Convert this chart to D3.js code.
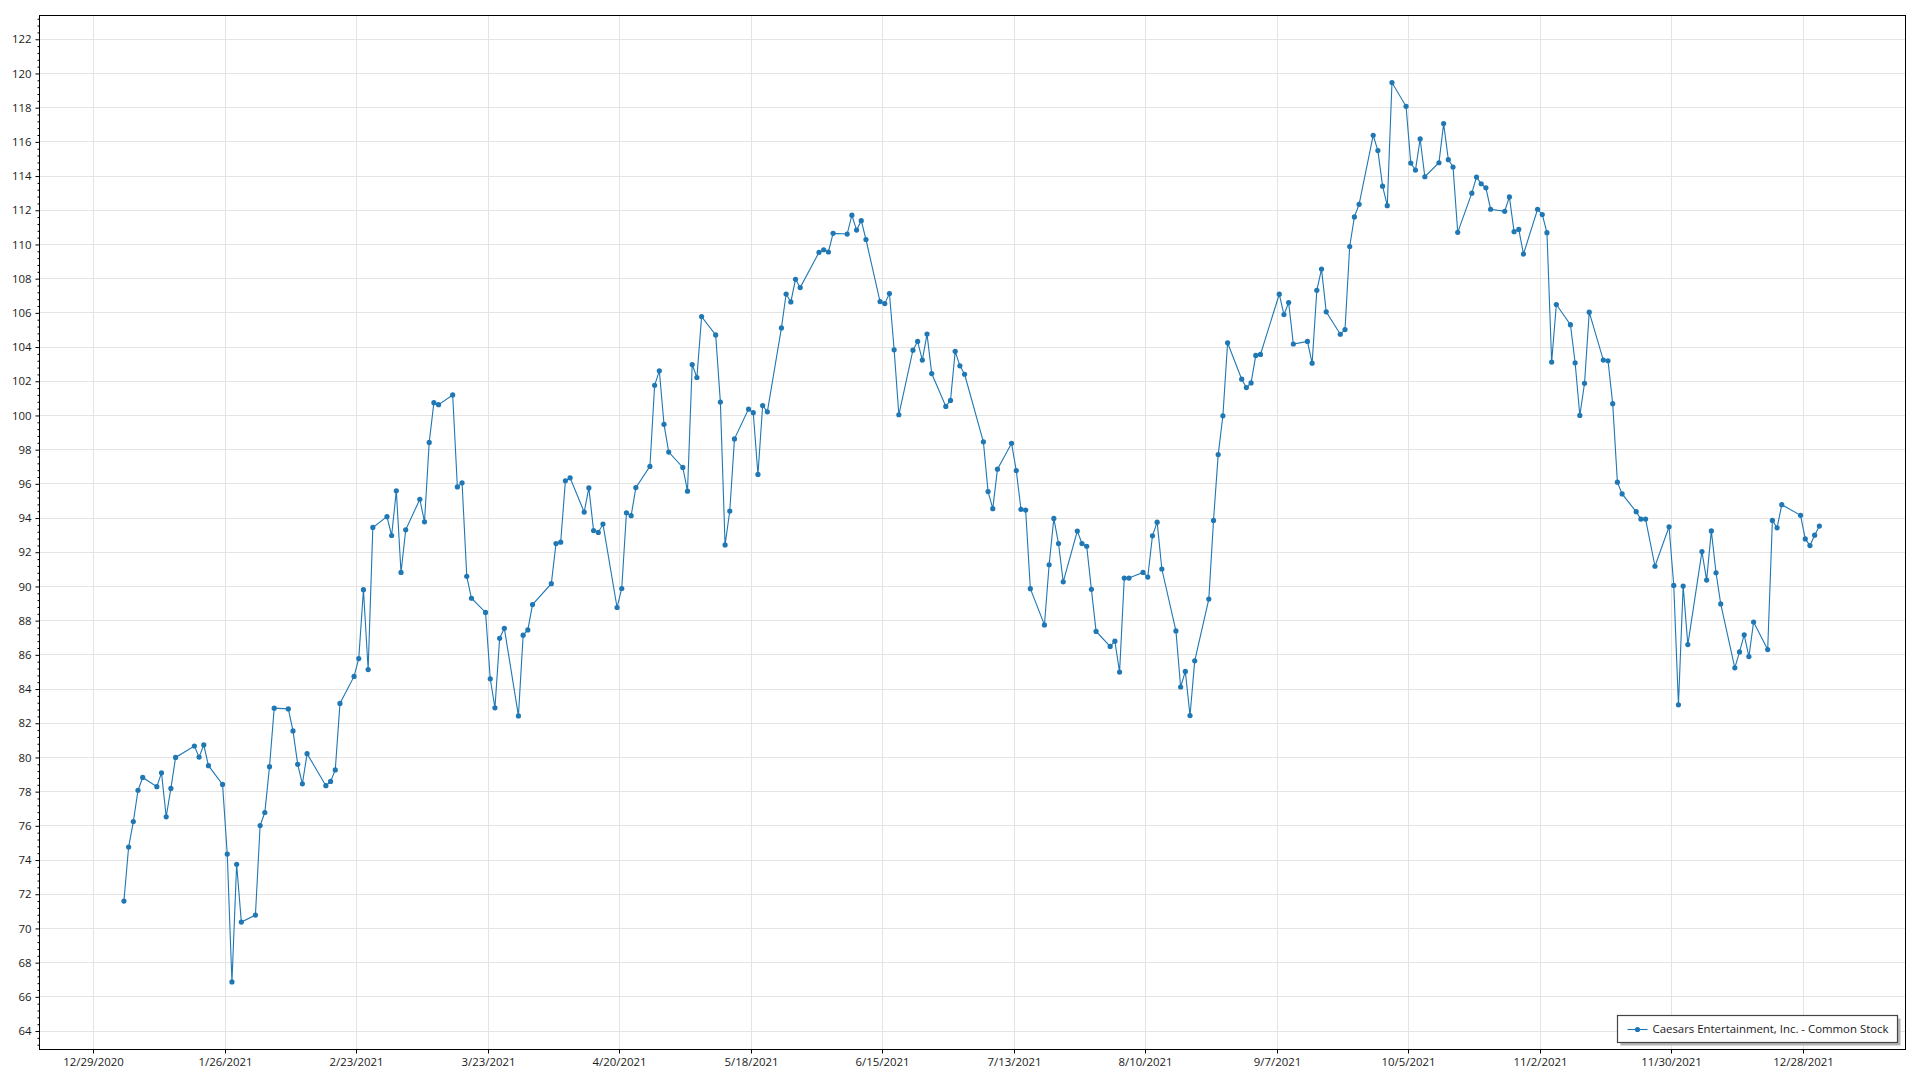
<!DOCTYPE html>
<html>
<head>
<meta charset="utf-8">
<script src="https://cdn.jsdelivr.net/npm/d3@7"></script>
<style>
  body { margin: 0; background: #fff; }
  svg text { font-family: "Segoe UI", "Open Sans", "Noto Sans", "Liberation Sans", sans-serif; }
</style>
</head>
<body>
<svg id="chart" width="1920" height="1080"></svg>
<script>
const seriesName = "Caesars Entertainment, Inc. - Common Stock";

const dates = [
  "2021-01-04","2021-01-05","2021-01-06","2021-01-07","2021-01-08",
  "2021-01-11","2021-01-12","2021-01-13","2021-01-14","2021-01-15",
  "2021-01-19","2021-01-20","2021-01-21","2021-01-22",
  "2021-01-25","2021-01-26","2021-01-27","2021-01-28","2021-01-29",
  "2021-02-01","2021-02-02","2021-02-03","2021-02-04","2021-02-05",
  "2021-02-08","2021-02-09","2021-02-10","2021-02-11","2021-02-12",
  "2021-02-16","2021-02-17","2021-02-18","2021-02-19",
  "2021-02-22","2021-02-23","2021-02-24","2021-02-25","2021-02-26",
  "2021-03-01","2021-03-02","2021-03-03","2021-03-04","2021-03-05",
  "2021-03-08","2021-03-09","2021-03-10","2021-03-11","2021-03-12",
  "2021-03-15","2021-03-16","2021-03-17","2021-03-18","2021-03-19",
  "2021-03-22","2021-03-23","2021-03-24","2021-03-25","2021-03-26",
  "2021-03-29","2021-03-30","2021-03-31",
  "2021-04-01",
  "2021-04-05","2021-04-06","2021-04-07","2021-04-08","2021-04-09",
  "2021-04-12","2021-04-13","2021-04-14","2021-04-15","2021-04-16",
  "2021-04-19","2021-04-20","2021-04-21","2021-04-22","2021-04-23",
  "2021-04-26","2021-04-27","2021-04-28","2021-04-29","2021-04-30",
  "2021-05-03","2021-05-04","2021-05-05","2021-05-06","2021-05-07",
  "2021-05-10","2021-05-11","2021-05-12","2021-05-13","2021-05-14",
  "2021-05-17","2021-05-18","2021-05-19","2021-05-20","2021-05-21",
  "2021-05-24","2021-05-25","2021-05-26","2021-05-27","2021-05-28",
  "2021-06-01","2021-06-02","2021-06-03","2021-06-04",
  "2021-06-07","2021-06-08","2021-06-09","2021-06-10","2021-06-11",
  "2021-06-14","2021-06-15","2021-06-16","2021-06-17","2021-06-18",
  "2021-06-21","2021-06-22","2021-06-23","2021-06-24","2021-06-25",
  "2021-06-28","2021-06-29","2021-06-30",
  "2021-07-01","2021-07-02",
  "2021-07-06","2021-07-07","2021-07-08","2021-07-09",
  "2021-07-12","2021-07-13","2021-07-14","2021-07-15","2021-07-16",
  "2021-07-19","2021-07-20","2021-07-21","2021-07-22","2021-07-23",
  "2021-07-26","2021-07-27","2021-07-28","2021-07-29","2021-07-30",
  "2021-08-02","2021-08-03","2021-08-04","2021-08-05","2021-08-06",
  "2021-08-09","2021-08-10","2021-08-11","2021-08-12","2021-08-13",
  "2021-08-16","2021-08-17","2021-08-18","2021-08-19","2021-08-20",
  "2021-08-23","2021-08-24","2021-08-25","2021-08-26","2021-08-27",
  "2021-08-30","2021-08-31",
  "2021-09-01","2021-09-02","2021-09-03",
  "2021-09-07","2021-09-08","2021-09-09","2021-09-10",
  "2021-09-13","2021-09-14","2021-09-15","2021-09-16","2021-09-17",
  "2021-09-20","2021-09-21","2021-09-22","2021-09-23","2021-09-24",
  "2021-09-27","2021-09-28","2021-09-29","2021-09-30",
  "2021-10-01",
  "2021-10-04","2021-10-05","2021-10-06","2021-10-07","2021-10-08",
  "2021-10-11","2021-10-12","2021-10-13","2021-10-14","2021-10-15",
  "2021-10-18","2021-10-19","2021-10-20","2021-10-21","2021-10-22",
  "2021-10-25","2021-10-26","2021-10-27","2021-10-28","2021-10-29",
  "2021-11-01","2021-11-02","2021-11-03","2021-11-04","2021-11-05",
  "2021-11-08","2021-11-09","2021-11-10","2021-11-11","2021-11-12",
  "2021-11-15","2021-11-16","2021-11-17","2021-11-18","2021-11-19",
  "2021-11-22","2021-11-23","2021-11-24",
  "2021-11-26",
  "2021-11-29","2021-11-30",
  "2021-12-01","2021-12-02","2021-12-03",
  "2021-12-06","2021-12-07","2021-12-08","2021-12-09","2021-12-10",
  "2021-12-13","2021-12-14","2021-12-15","2021-12-16","2021-12-17",
  "2021-12-20","2021-12-21","2021-12-22","2021-12-23",
  "2021-12-27","2021-12-28","2021-12-29","2021-12-30","2021-12-31"
];

const closes = [
  71.6, 74.76, 76.25, 78.08, 78.83,
  78.29, 79.1, 76.53, 78.19, 80.0,
  80.67, 80.02, 80.73, 79.52,
  78.42, 74.35, 66.87, 73.75, 70.37,
  70.78, 76.02, 76.78, 79.46, 82.88,
  82.84, 81.55, 79.6, 78.46, 80.22,
  78.35, 78.6, 79.27, 83.16,
  84.74, 85.78, 89.81, 85.14, 93.45,
  94.08, 92.98, 95.59, 90.82, 93.31,
  95.1, 93.78, 98.42, 100.75, 100.63,
  101.2, 95.82, 96.06, 90.59, 89.31,
  88.48, 84.6, 82.9, 86.97, 87.55,
  82.43, 87.15, 87.46,
  88.94,
  90.16, 92.51, 92.59, 96.18, 96.35,
  94.35, 95.76, 93.27, 93.16, 93.65,
  88.77, 89.88, 94.31, 94.14, 95.78,
  97.02, 101.76, 102.61, 99.48, 97.86,
  96.96, 95.57, 102.98, 102.22, 105.78,
  104.71, 100.78, 92.43, 94.41, 98.63,
  100.37, 100.16, 96.55, 100.58, 100.21,
  105.12, 107.1, 106.64, 107.96, 107.48,
  109.54, 109.69, 109.56, 110.65,
  110.61, 111.71, 110.84, 111.39, 110.29,
  106.66, 106.54, 107.13, 103.84, 100.04,
  103.82, 104.33, 103.24, 104.76, 102.45,
  100.53, 100.88, 103.75,
  102.9, 102.41,
  98.46, 95.55, 94.55, 96.86,
  98.37, 96.78, 94.51, 94.47, 89.87,
  87.75, 91.27, 93.98, 92.51, 90.27,
  93.24, 92.51, 92.35, 89.83, 87.37,
  86.49, 86.8, 84.99, 90.49, 90.49,
  90.82, 90.55, 92.96, 93.76, 91.02,
  87.4, 84.12, 85.03, 82.45, 85.65,
  89.26, 93.86, 97.71, 99.98, 104.25,
  102.12, 101.63,
  101.9, 103.51, 103.57,
  107.09, 105.9, 106.6, 104.18,
  104.33, 103.06, 107.32, 108.56, 106.06,
  104.75, 105.02, 109.88, 111.61, 112.35,
  116.38, 115.49, 113.41, 112.27,
  119.47,
  118.08, 114.76, 114.35, 116.17, 113.96,
  114.78, 117.07, 114.96, 114.53, 110.71,
  113.0, 113.94, 113.55, 113.31, 112.06,
  111.94, 112.78, 110.75, 110.88, 109.44,
  112.06, 111.75, 110.69, 103.12, 106.49,
  105.31, 103.08, 100.0, 101.88, 106.04,
  103.24, 103.2, 100.69, 96.1, 95.41,
  94.37, 93.94, 93.94,
  91.18,
  93.49, 90.06,
  83.08, 90.02, 86.6,
  92.04, 90.37, 93.25, 90.8, 88.98,
  85.24, 86.17, 87.17, 85.9, 87.92,
  86.31, 93.86, 93.43, 94.78,
  94.16, 92.78, 92.39, 93.0, 93.53
];

const xTickDates = [
  "2020-12-29","2021-01-26","2021-02-23","2021-03-23","2021-04-20",
  "2021-05-18","2021-06-15","2021-07-13","2021-08-10","2021-09-07",
  "2021-10-05","2021-11-02","2021-11-30","2021-12-28"
];

const yTickValues = [64,66,68,70,72,74,76,78,80,82,84,86,88,90,92,94,96,98,
  100,102,104,106,108,110,112,114,116,118,120,122];

// ---------- layout ----------
const plot = { left: 39.5, top: 15.5, right: 1905.5, bottom: 1049.5 };
const lineColor = "#1f77b4";
const gridColor = "#e4e4e4";
const textColor = "#1a1a1a";
const fontSize = 11.4;
const HOUR = 3600 * 1000;

const parse = d3.utcParse("%Y-%m-%d");
const data = dates.map((d, i) => ({ date: parse(d), value: closes[i] }));

const x = d3.scaleUtc()
  .domain([new Date(Date.UTC(2020, 11, 17, 10, 33)), new Date(Date.UTC(2022, 0, 18, 18, 15))])
  .range([plot.left, plot.right]);
const y = d3.scaleLinear()
  .domain([62.92, 123.39])
  .range([plot.bottom, plot.top]);

const pointX = d => x(new Date(d.date.getTime() + 10 * HOUR));

const svg = d3.select("#chart");
svg.append("rect").attr("width", 1920).attr("height", 1080).attr("fill", "#fff");

const crisp = v => Math.round(v - 0.5) + 0.5;

// gridlines
const grid = svg.append("g");
grid.selectAll("line.h").data(yTickValues).join("line")
  .attr("x1", plot.left).attr("x2", plot.right)
  .attr("y1", d => crisp(y(d))).attr("y2", d => crisp(y(d)))
  .attr("stroke", gridColor).attr("stroke-width", 1);
grid.selectAll("line.v").data(xTickDates.map(parse)).join("line")
  .attr("y1", plot.top).attr("y2", plot.bottom)
  .attr("x1", d => crisp(x(d))).attr("x2", d => crisp(x(d)))
  .attr("stroke", gridColor).attr("stroke-width", 1);

// y axis (major + minor)
const minorY = d3.range(63.2, 123.39, 0.4).filter(v => Math.abs(v / 2 - Math.round(v / 2)) > 1e-6);
const yAxis = svg.append("g").attr("transform", `translate(${plot.left},0)`)
  .call(d3.axisLeft(y).tickValues(yTickValues).tickSize(4).tickPadding(4).tickFormat(d3.format("d")));
svg.append("g").attr("transform", `translate(${plot.left},0)`)
  .call(d3.axisLeft(y).tickValues(minorY).tickSize(2).tickFormat(""))
  .call(g => g.select(".domain").remove());
yAxis.select(".domain").remove();

// x axis
const xAxis = svg.append("g").attr("transform", `translate(0,${plot.bottom})`)
  .call(d3.axisBottom(x).tickValues(xTickDates.map(parse)).tickSize(4).tickPadding(4)
    .tickFormat(d3.utcFormat("%-m/%-d/%Y")));
xAxis.select(".domain").remove();

[yAxis, xAxis].forEach(g => {
  g.selectAll("text").attr("font-size", fontSize).attr("fill", textColor)
    .style("font-family", "'Segoe UI','Open Sans','Noto Sans',sans-serif");
});
svg.selectAll(".tick line").attr("stroke", "#000");
xAxis.selectAll(".tick").attr("transform", d => `translate(${crisp(x(d))},0)`);

// series line + markers
const line = d3.line().x(pointX).y(d => y(d.value));
svg.append("path").datum(data)
  .attr("d", line).attr("fill", "none")
  .attr("stroke", lineColor).attr("stroke-width", 1.1);
svg.append("g").selectAll("circle").data(data).join("circle")
  .attr("cx", pointX).attr("cy", d => y(d.value)).attr("r", 2.6)
  .attr("fill", lineColor);

// plot border
svg.append("rect")
  .attr("x", plot.left).attr("y", plot.top)
  .attr("width", plot.right - plot.left).attr("height", plot.bottom - plot.top)
  .attr("fill", "none").attr("stroke", "#000").attr("stroke-width", 1);

// legend
const lg = svg.append("g").attr("transform", "translate(1617.5,1015.5)");
lg.append("rect").attr("x", 3).attr("y", 3).attr("width", 280).attr("height", 27).attr("fill", "#b5b5b5");
lg.append("rect").attr("x", 0).attr("y", 0).attr("width", 280).attr("height", 27)
  .attr("fill", "#fff").attr("stroke", "#444").attr("stroke-width", 1.2);
lg.append("line").attr("x1", 10).attr("x2", 30).attr("y1", 14).attr("y2", 14)
  .attr("stroke", lineColor).attr("stroke-width", 1.1);
lg.append("circle").attr("cx", 20).attr("cy", 14).attr("r", 2.6).attr("fill", lineColor);
lg.append("text").attr("x", 35).attr("y", 14).attr("dy", "0.35em")
  .attr("font-size", fontSize).attr("fill", textColor).text(seriesName);
</script>
</body>
</html>
